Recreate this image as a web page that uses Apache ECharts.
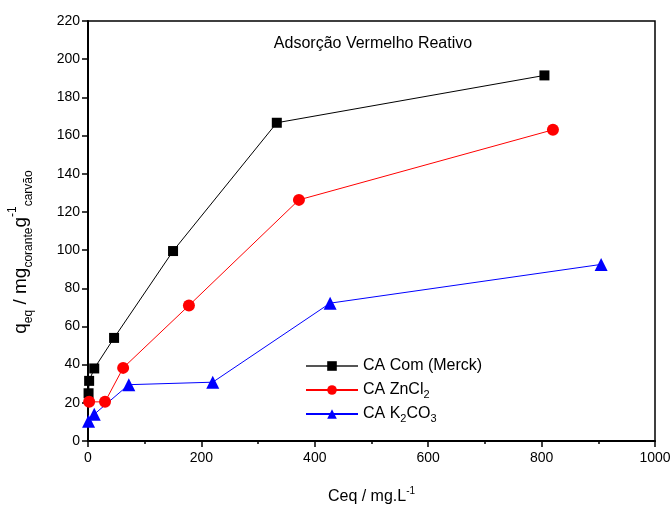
<!DOCTYPE html>
<html>
<head>
<meta charset="utf-8">
<script src="https://cdn.jsdelivr.net/npm/echarts@6/dist/echarts.min.js"></script>
<style>
  html, body { margin: 0; padding: 0; background: #fff; }
  #chart { width: 672px; height: 511px; }
</style>
</head>
<body>
<div id="chart"></div>
<script>
// dados (Ceq, qeq)
var merckData = [[1, 25], [2, 31.5], [11, 38], [46, 54], [150, 99.5], [333, 166.7], [805, 191.5]];
var zncl2Data = [[2, 20.5], [30, 20.5], [62, 38.3], [178, 71], [372, 126.3], [820, 163]];
var k2co3Data = [[1, 10.3], [11, 14], [72, 29.5], [220, 30.8], [427, 72.2], [905, 92.5]];
var seriesNames = ['CA Com (Merck)', 'CA ZnCl2', 'CA K2CO3'];
var xTicks = [0, 200, 400, 600, 800, 1000];
var yTicks = [0, 20, 40, 60, 80, 100, 120, 140, 160, 180, 200, 220];

var font = 'Liberation Sans, Arial, sans-serif';
var myChart = echarts.init(document.getElementById('chart'));

// estilos de sub/sobrescrito
var subStyle = function (size) {
  return { fontFamily: font, fontSize: size, color: '#000', verticalAlign: 'bottom', lineHeight: size };
};
var supStyle = function (size) {
  return { fontFamily: font, fontSize: size, color: '#000', verticalAlign: 'top', lineHeight: size };
};

var option = {
  animation: false,
  title: {
    text: 'Adsorção Vermelho Reativo',
    left: 368,
    top: 31,
    textAlign: 'center',
    textStyle: { fontFamily: font, fontSize: 16, fontWeight: 'normal', color: '#000' }
  },
  grid: {
    left: 88, right: 17, top: 21, bottom: 70,
    outerBoundsMode: 'none',
    containLabel: false,
    show: true, borderColor: '#000', borderWidth: 1.5, backgroundColor: 'transparent'
  },
  color: ['#000000', '#ff0000', '#0000ff'],
  legend: {
    orient: 'vertical',
    left: 300,
    top: 351,
    itemWidth: 52,
    itemHeight: 12,
    itemGap: 4,
    data: [
      { name: seriesNames[0], lineStyle: { color: '#555' } },
      { name: seriesNames[1] },
      { name: seriesNames[2] }
    ],
    formatter: function (name) {
      if (name === 'CA ZnCl2') return 'CA ZnCl{sub|2}';
      if (name === 'CA K2CO3') return 'CA K{sub|2}CO{sub|3}';
      return name;
    },
    textStyle: {
      fontFamily: font, fontSize: 16, color: '#000', lineHeight: 20,
      rich: { sub: subStyle(11) }
    }
  },
  xAxis: {
    type: 'value',
    min: 0, max: 1000, interval: 200,
    name: 'Ceq / mg.L{sup|-1}',
    nameLocation: 'middle',
    nameGap: 45,
    nameTextStyle: {
      fontFamily: font, fontSize: 16, color: '#000', lineHeight: 22,
      rich: { sup: supStyle(10) }
    },
    axisLine: { show: true, lineStyle: { color: '#000', width: 2 } },
    axisTick: { show: true, inside: false, length: 6, lineStyle: { color: '#000', width: 1.5 } },
    minorTick: { show: true, splitNumber: 2, length: 3, lineStyle: { color: '#000', width: 1.5 } },
    splitLine: { show: false },
    axisLabel: {
      fontFamily: font, fontSize: 14, color: '#000', margin: 10,
      formatter: function (v) { return String(v); }
    }
  },
  yAxis: {
    type: 'value',
    min: 0, max: 220, interval: 20,
    name: 'q{sub|eq} / mg{sub|corante}g{sup|-1}{sub|carvão}',
    nameLocation: 'middle',
    nameRotate: 90,
    nameGap: 53,
    nameTextStyle: {
      fontFamily: font, fontSize: 19, color: '#000', lineHeight: 28,
      padding: [0, 42, 0, 0],
      rich: { sub: subStyle(12), sup: supStyle(12) }
    },
    axisLine: { show: true, lineStyle: { color: '#000', width: 2 } },
    axisTick: { show: true, inside: false, length: 6, lineStyle: { color: '#000', width: 1.5 } },
    splitLine: { show: false },
    axisLabel: { fontFamily: font, fontSize: 14, color: '#000', margin: 8 }
  },
  series: [
    {
      name: seriesNames[0],
      type: 'line',
      data: merckData,
      symbol: 'rect',
      symbolSize: 10,
      clip: false,
      z: 3,
      lineStyle: { color: '#000', width: 1 },
      itemStyle: { color: '#000' }
    },
    {
      name: seriesNames[1],
      type: 'line',
      data: zncl2Data,
      symbol: 'circle',
      symbolSize: 12,
      clip: false,
      z: 3,
      lineStyle: { color: '#ff0000', width: 1 },
      itemStyle: { color: '#ff0000' }
    },
    {
      name: seriesNames[2],
      type: 'line',
      data: k2co3Data,
      symbol: 'triangle',
      symbolSize: 13,
      clip: false,
      z: 3,
      lineStyle: { color: '#0000ff', width: 1 },
      itemStyle: { color: '#0000ff' }
    }
  ]
};

myChart.setOption(option);
</script>
</body>
</html>
